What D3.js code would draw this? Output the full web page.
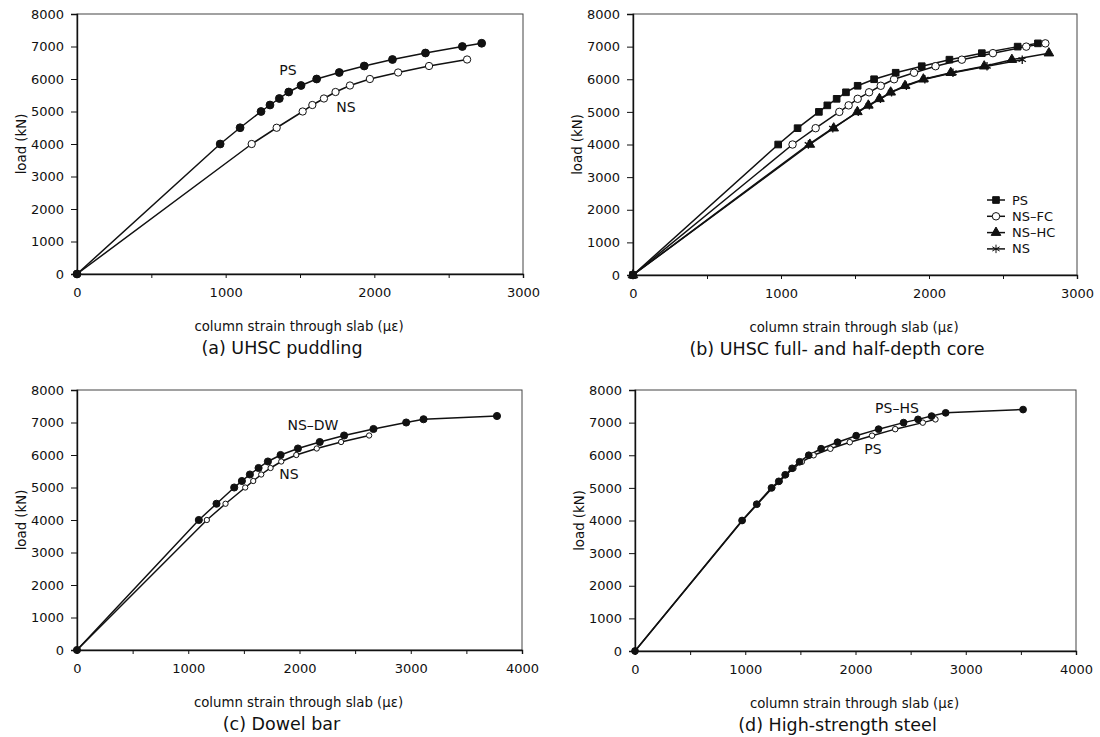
<!DOCTYPE html>
<html>
<head>
<meta charset="utf-8">
<script src="https://cdn.jsdelivr.net/npm/d3@7"></script>
<style>
  body { margin: 0; background: #fff; }
  svg { display: block; }
  text { font-family: "DejaVu Sans", "Liberation Sans", Arial, sans-serif; fill: #111; }
</style>
</head>
<body>
<svg id="fig" width="1100" height="737"></svg>
<script>
"use strict";

// load steps (kN)
const loads15 = [0, 4000, 4500, 5000, 5200, 5400, 5600, 5800, 6000, 6200, 6400, 6600, 6800, 7000, 7100];
const loads12 = [0, 4000, 4500, 5000, 5200, 5400, 5600, 5800, 6000, 6200, 6400, 6600];
const loads13 = [0, 4000, 4500, 5000, 5200, 5400, 5600, 5800, 6000, 6200, 6400, 6600, 6800];
const loads16 = [0, 4000, 4500, 5000, 5200, 5400, 5600, 5800, 6000, 6200, 6400, 6600, 6800, 7000, 7100, 7200];
const loads18 = [0, 4000, 4500, 5000, 5200, 5400, 5600, 5800, 6000, 6200, 6400, 6600, 6800, 7000, 7100, 7200, 7300, 7400];

// (a) UHSC puddling
const strainA_PS = [0, 963, 1097, 1238, 1298, 1361, 1424, 1507, 1612, 1764, 1932, 2122, 2344, 2592, 2722];
const strainA_NS = [0, 1175, 1343, 1518, 1583, 1661, 1739, 1836, 1970, 2160, 2368, 2624];

// (b) UHSC full- and half-depth core
const strainB_PS = [0, 981, 1112, 1256, 1313, 1376, 1439, 1518, 1629, 1775, 1951, 2138, 2357, 2599, 2736];
const strainB_NSFC = [0, 1078, 1234, 1394, 1457, 1518, 1595, 1674, 1764, 1899, 2044, 2222, 2432, 2657, 2786];
const strainB_NSHC = [0, 1195, 1356, 1516, 1590, 1665, 1741, 1838, 1962, 2147, 2373, 2560, 2810];
const strainB_NS = [0, 1185, 1350, 1522, 1597, 1672, 1747, 1847, 1972, 2162, 2392, 2630];

// (c) Dowel bar
const strainC_NSDW = [0, 1095, 1254, 1413, 1482, 1554, 1632, 1716, 1830, 1986, 2182, 2401, 2665, 2959, 3115, 3775];
const strainC_NS = [0, 1167, 1335, 1512, 1584, 1656, 1740, 1836, 1971, 2155, 2374, 2626];

// (d) High-strength steel
const strainD_PSHS = [0, 971, 1104, 1238, 1304, 1362, 1425, 1492, 1576, 1688, 1837, 2006, 2209, 2436, 2567, 2690, 2818, 3520];
const strainD_PS = [0, 975, 1110, 1245, 1312, 1370, 1437, 1513, 1620, 1772, 1948, 2150, 2360, 2610, 2725];

const yTicks = [0, 1000, 2000, 3000, 4000, 5000, 6000, 7000, 8000];

function zip(xs, ys) {
  return xs.map(function (x, i) { return { x: x, y: ys[i] }; });
}

const panels = [
  {
    x: 77, y: 14, w: 446, h: 260, xmax: 3000, title: "(a) UHSC puddling",
    series: [
      { name: "PS", data: zip(strainA_PS, loads15), sym: "circle", fill: true, size: 48 },
      { name: "NS", data: zip(strainA_NS, loads12), sym: "circle", fill: false, size: 42 }
    ],
    notes: [{ t: "PS", x: 1419, y: 6280 }, { t: "NS", x: 1809, y: 5140 }]
  },
  {
    x: 633, y: 14, w: 444, h: 261, xmax: 3000, title: "(b) UHSC full- and half-depth core",
    series: [
      { name: "PS", data: zip(strainB_PS, loads15), sym: "square", fill: true, size: 44 },
      { name: "NS-FC", data: zip(strainB_NSFC, loads15), sym: "circle", fill: false, size: 44 },
      { name: "NS-HC", data: zip(strainB_NSHC, loads13), sym: "triangle", fill: true, size: 40 },
      { name: "NS", data: zip(strainB_NS, loads12), sym: "asterisk", fill: false, size: 50 }
    ],
    legend: true
  },
  {
    x: 77, y: 390, w: 445, h: 260, xmax: 4000, title: "(c) Dowel bar",
    series: [
      { name: "NS-DW", data: zip(strainC_NSDW, loads16), sym: "circle", fill: true, size: 40 },
      { name: "NS", data: zip(strainC_NS, loads12), sym: "circle", fill: false, size: 22 }
    ],
    notes: [{ t: "NS\u2013DW", x: 2121, y: 6930 }, { t: "NS", x: 1906, y: 5420 }]
  },
  {
    x: 635, y: 390, w: 441, h: 261, xmax: 4000, title: "(d) High-strength steel",
    series: [
      { name: "PS", data: zip(strainD_PS, loads15), sym: "circle", fill: false, size: 24 },
      { name: "PS-HS", data: zip(strainD_PSHS, loads18), sym: "circle", fill: true, size: 36 }
    ],
    notes: [{ t: "PS\u2013HS", x: 2376, y: 7450 }, { t: "PS", x: 2159, y: 6190 }]
  }
];

const symbols = {
  circle: d3.symbolCircle,
  square: d3.symbolSquare,
  triangle: d3.symbolTriangle,
  asterisk: d3.symbolAsterisk
};

const svg = d3.select("#fig");

function markerFill(s) {
  if (s.sym === "asterisk") return "none";
  return s.fill ? "#111" : "#fff";
}

panels.forEach(function (p) {
  const g = svg.append("g").attr("transform", "translate(" + p.x + "," + p.y + ")");

  const x = d3.scaleLinear().domain([0, p.xmax]).range([0, p.w]);
  const y = d3.scaleLinear().domain([0, 8000]).range([p.h, 0]);

  // frame (top + right)
  g.append("rect")
    .attr("width", p.w).attr("height", p.h)
    .attr("fill", "none").attr("stroke", "#444").attr("stroke-width", 1);

  const xAxis = d3.axisBottom(x)
    .tickValues(d3.range(0, p.xmax + 1, 500))
    .tickFormat(function (d) { return d % 1000 === 0 ? d : ""; })
    .tickSize(4).tickPadding(10);
  const yAxis = d3.axisLeft(y).tickValues(yTicks).tickFormat(d3.format("d"))
    .tickSize(6).tickPadding(7);

  const gx = g.append("g").attr("transform", "translate(0," + p.h + ")").call(xAxis);
  const gy = g.append("g").call(yAxis);
  [gx, gy].forEach(function (a) {
    a.select(".domain").attr("stroke", "#111").attr("stroke-width", 1.4);
    a.selectAll(".tick line").attr("stroke", "#111").attr("stroke-width", 1);
    a.selectAll("text").attr("font-size", 13).attr("fill", "#111")
      .style("font-family", "'DejaVu Sans', sans-serif");
  });

  g.append("text")
    .attr("x", p.w / 2 - 1).attr("y", p.h + 57)
    .attr("text-anchor", "middle").attr("font-size", 13.3)
    .text("column strain through slab (\u03bc\u03b5)");

  g.append("text")
    .attr("transform", "translate(-51," + (p.h / 2) + ") rotate(-90)")
    .attr("text-anchor", "middle").attr("font-size", 13.3)
    .text("load (kN)");

  g.append("text")
    .attr("x", p.w / 2 - 18).attr("y", p.h + 80)
    .attr("text-anchor", "middle").attr("font-size", 17.5)
    .text(p.title);

  const line = d3.line().x(function (d) { return x(d.x); }).y(function (d) { return y(d.y); });

  p.series.forEach(function (s) {
    g.append("path").datum(s.data)
      .attr("d", line).attr("fill", "none")
      .attr("stroke", "#111").attr("stroke-width", 1.5);
  });

  // open markers first, filled ones on top
  const order = p.series.slice().sort(function (a, b) { return (a.fill ? 1 : 0) - (b.fill ? 1 : 0); });
  order.forEach(function (s) {
    g.append("g").selectAll("path").data(s.data).enter().append("path")
      .attr("transform", function (d) { return "translate(" + x(d.x) + "," + y(d.y) + ")"; })
      .attr("d", d3.symbol().type(symbols[s.sym]).size(s.size))
      .attr("fill", markerFill(s))
      .attr("stroke", "#111").attr("stroke-width", s.sym === "asterisk" ? 1.3 : 1);
  });

  (p.notes || []).forEach(function (n) {
    g.append("text")
      .attr("x", x(n.x)).attr("y", y(n.y))
      .attr("text-anchor", "middle").attr("dominant-baseline", "central")
      .attr("font-size", 14).text(n.t);
  });

  if (p.legend) {
    const lg = g.append("g").attr("transform", "translate(354,186)");
    p.series.forEach(function (s, i) {
      const row = lg.append("g").attr("transform", "translate(0," + (i * 16.3) + ")");
      row.append("line").attr("x1", 0).attr("x2", 18).attr("stroke", "#111").attr("stroke-width", 1.5);
      row.append("path")
        .attr("transform", "translate(9,0)")
        .attr("d", d3.symbol().type(symbols[s.sym]).size(s.size))
        .attr("fill", markerFill(s))
        .attr("stroke", "#111").attr("stroke-width", 1);
      row.append("text").attr("x", 25).attr("y", 0)
        .attr("dominant-baseline", "central").attr("font-size", 13)
        .text(s.name.replace("-", "\u2013"));
    });
  }
});
</script>
</body>
</html>
